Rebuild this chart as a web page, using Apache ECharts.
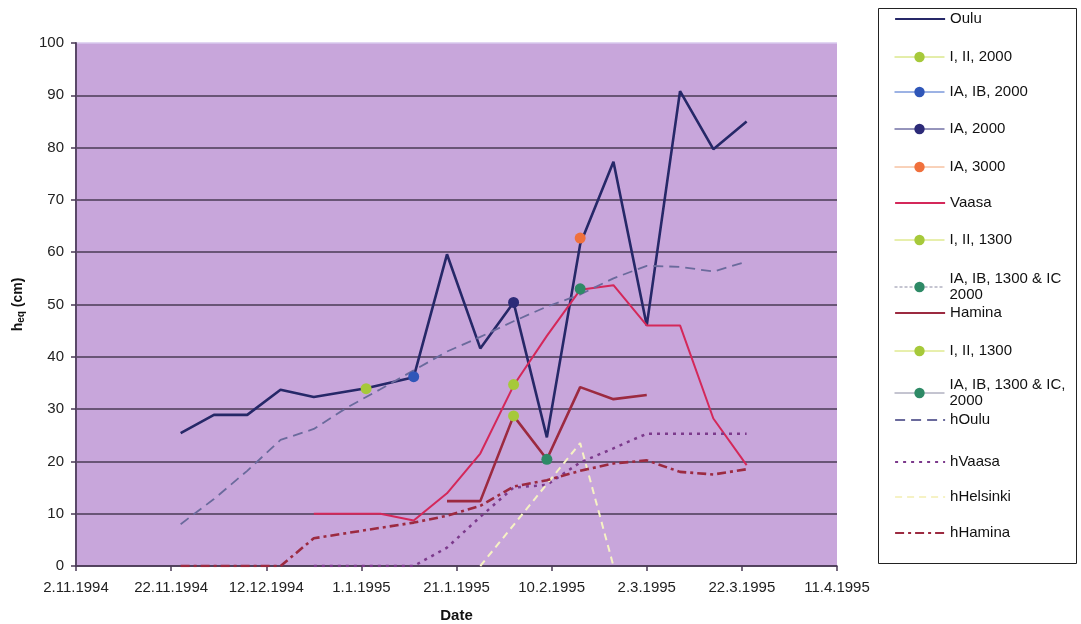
<!DOCTYPE html>
<html><head><meta charset="utf-8">
<script src="https://cdn.jsdelivr.net/npm/echarts@6/dist/echarts.min.js"></script>
<style>html,body{margin:0;padding:0;background:#fff}#c{width:1081px;height:624px}</style>
</head><body><div id="c"></div>
<script>
// ---- data ----
const xTickLabels = ['2.11.1994','22.11.1994','12.12.1994','1.1.1995','21.1.1995','10.2.1995','2.3.1995','22.3.1995','11.4.1995'];

const ouluDates = ['24.11.1994','1.12.1994','8.12.1994','15.12.1994','22.12.1994','2.1.1995','12.1.1995','19.1.1995','26.1.1995','2.2.1995','9.2.1995','16.2.1995','23.2.1995','2.3.1995','9.3.1995','16.3.1995','23.3.1995'];
const ouluValues = [25.4, 28.9, 28.9, 33.7, 32.3, 34.0, 36.1, 59.6, 41.6, 50.4, 24.6, 61.5, 77.3, 46.0, 90.8, 79.7, 85.0];

const vaasaDates = ['22.12.1994','29.12.1994','5.1.1995','12.1.1995','19.1.1995','26.1.1995','2.2.1995','9.2.1995','16.2.1995','23.2.1995','2.3.1995','9.3.1995','16.3.1995','23.3.1995'];
const vaasaValues = [10, 10, 10, 8.7, 13.9, 21.5, 34.5, 44.0, 52.8, 53.7, 46.0, 46.0, 28.2, 19.3];

const haminaDates = ['19.1.1995','26.1.1995','2.2.1995','9.2.1995','16.2.1995','23.2.1995','2.3.1995'];
const haminaValues = [12.4, 12.4, 28.7, 20.4, 34.2, 31.9, 32.7];

const hOuluDates = ['24.11.1994','1.12.1994','8.12.1994','15.12.1994','22.12.1994','29.12.1994','5.1.1995','12.1.1995','19.1.1995','26.1.1995','2.2.1995','9.2.1995','16.2.1995','23.2.1995','2.3.1995','9.3.1995','16.3.1995','23.3.1995'];
const hOuluValues = [8.0, 12.8, 18.2, 24.1, 26.2, 30.3, 33.8, 37.4, 41.0, 43.8, 46.8, 49.6, 51.9, 55.0, 57.4, 57.2, 56.3, 58.2];

const hVaasaDates = ['22.12.1994','29.12.1994','5.1.1995','12.1.1995','19.1.1995','26.1.1995','2.2.1995','9.2.1995','16.2.1995','23.2.1995','2.3.1995','9.3.1995','16.3.1995','23.3.1995'];
const hVaasaValues = [0, 0, 0, 0, 3.5, 9.4, 15.0, 15.5, 19.8, 22.5, 25.3, 25.3, 25.3, 25.3];

const hHelsinkiDates = ['26.1.1995','16.2.1995','23.2.1995'];
const hHelsinkiValues = [0, 23.5, 0];

const hHaminaDates = ['24.11.1994','1.12.1994','8.12.1994','15.12.1994','22.12.1994','29.12.1994','5.1.1995','12.1.1995','19.1.1995','26.1.1995','2.2.1995','9.2.1995','16.2.1995','23.2.1995','2.3.1995','9.3.1995','16.3.1995','23.3.1995'];
const hHaminaValues = [0, 0, 0, 0, 5.3, 6.3, 7.3, 8.3, 9.6, 11.5, 15.2, 16.4, 18.2, 19.6, 20.2, 18.0, 17.5, 18.5];

// single-point class markers
const cls_I_II_2000 = { dates: ['2.1.1995'], values: [33.9] };
const cls_IA_IB_2000 = { dates: ['12.1.1995'], values: [36.2] };
const cls_IA_2000 = { dates: ['2.2.1995'], values: [50.4] };
const cls_IA_3000 = { dates: ['16.2.1995'], values: [62.7] };
const cls_V_I_II_1300 = { dates: ['2.2.1995'], values: [34.7] };
const cls_V_IA_IB_1300 = { dates: ['16.2.1995'], values: [53.0] };
const cls_H_I_II_1300 = { dates: ['2.2.1995'], values: [28.7] };
const cls_H_IA_IB_1300 = { dates: ['9.2.1995'], values: [20.4] };

// ---- helpers ----
const BASE = Date.UTC(1994, 10, 2);
function dayOf(s) { const p = s.split('.').map(Number); return (Date.UTC(p[2], p[1] - 1, p[0]) - BASE) / 86400000; }
function pts(dates, vals) { return dates.map((d, i) => [dayOf(d), vals[i]]); }

const FONT = 'Liberation Sans, Arial, sans-serif';

function lineSeries(name, data, color, width, type, z) {
  return { name, type: 'line', data, symbol: 'none', z: z || 2,
    lineStyle: { color, width, type: type || 'solid' }, itemStyle: { color }, emphasis: { disabled: true }, silent: true };
}
function markSeries(name, obj, mColor, lColor, lType) {
  return { name, type: 'line', data: pts(obj.dates, obj.values), symbol: 'circle', symbolSize: 11, showSymbol: true, z: 5,
    itemStyle: { color: mColor }, lineStyle: { color: lColor, width: 1, type: lType || 'solid' }, emphasis: { disabled: true }, silent: true };
}

const series = [
  lineSeries('Oulu', pts(ouluDates, ouluValues), '#262868', 2.6),
  markSeries('I, II, 2000', cls_I_II_2000, '#a6c93a', '#c9dc55'),
  markSeries('IA, IB, 2000', cls_IA_IB_2000, '#2f56b8', '#3b66c9'),
  markSeries('IA, 2000', cls_IA_2000, '#2c2a78', '#2c2a78'),
  markSeries('IA, 3000', cls_IA_3000, '#f0703c', '#f2a474'),
  lineSeries('Vaasa', pts(vaasaDates, vaasaValues), '#d4285a', 2),
  markSeries('I, II, 1300', cls_V_I_II_1300, '#a6c93a', '#d0df5a'),
  markSeries('IA, IB, 1300 & IC 2000', cls_V_IA_IB_1300, '#2e8a66', '#8a8aa2', [3, 2]),
  lineSeries('Hamina', pts(haminaDates, haminaValues), '#9c2a40', 2.6),
  markSeries('I, II, 1300', cls_H_I_II_1300, '#a6c93a', '#d0df5a'),
  markSeries('IA, IB, 1300 & IC, 2000', cls_H_IA_IB_1300, '#2e8a66', '#8a8aa2'),
  lineSeries('hOulu', pts(hOuluDates, hOuluValues), '#6a6a9c', 1.8, [10, 6]),
  lineSeries('hVaasa', pts(hVaasaDates, hVaasaValues), '#7c3a8c', 2.5, [3, 5]),
  lineSeries('hHelsinki', pts(hHelsinkiDates, hHelsinkiValues), '#f6f2c4', 2, [7, 5]),
  lineSeries('hHamina', pts(hHaminaDates, hHaminaValues), '#9c2a40', 2.6, [9, 4, 3, 4])
];

// legend entries: name, icon centre y, lines of text, plain line?, formatted text
const legendItems = [
  ['Oulu', 19, 1, true, null],
  ['I, II, 2000', 57, 1, false, null],
  ['IA, IB, 2000', 92, 1, false, null],
  ['IA, 2000', 129, 1, false, null],
  ['IA, 3000', 167, 1, false, null],
  ['Vaasa', 203, 1, true, null],
  ['I, II, 1300', 240, 1, false, null],
  ['IA, IB, 1300 & IC 2000', 287, 2, false, 'IA, IB, 1300 & IC\n2000'],
  ['Hamina', 313, 1, true, null],
  ['I, II, 1300', 351, 1, false, null],
  ['IA, IB, 1300 & IC, 2000', 393, 2, false, 'IA, IB, 1300 & IC,\n2000'],
  ['hOulu', 420, 1, true, null],
  ['hVaasa', 462, 1, true, null],
  ['hHelsinki', 497, 1, true, null],
  ['hHamina', 533, 1, true, null]
];
const legends = legendItems.map(([name, cy, nl, plain, fmt]) => {
  const l = {
    data: [name], orient: 'vertical', left: 894, top: cy - 8 * nl, padding: 0,
    itemWidth: 50, itemHeight: 13, selectedMode: false,
    textStyle: { fontFamily: FONT, fontSize: 15, color: '#111', lineHeight: 16 },
    lineStyle: { width: plain ? 2.2 : 1 }
  };
  if (plain) l.itemStyle = { opacity: 0 };
  if (fmt) l.formatter = fmt;
  return l;
});

const gridColors = [];
for (let i = 0; i < 10; i++) gridColors.push('#4a3a55');
gridColors.push('#d8c8ee');

const option = {
  backgroundColor: '#ffffff',
  animation: false,
  grid: { left: 76, right: 244, top: 43, bottom: 58, show: true, backgroundColor: '#c8a6db', borderWidth: 0, containLabel: false, outerBoundsMode: 'none' },
  graphic: [{ type: 'rect', z: 0, shape: { x: 878.5, y: 8.5, width: 198, height: 555 }, style: { fill: '#ffffff', stroke: '#222', lineWidth: 1 } }],
  legend: legends,
  xAxis: {
    type: 'value', min: 0, max: 160, interval: 20,
    name: 'Date', nameLocation: 'middle', nameGap: 42,
    nameTextStyle: { fontFamily: FONT, fontSize: 15, fontWeight: 'bold', color: '#111' },
    axisLine: { show: true, lineStyle: { color: '#4a3a55', width: 1.5 } },
    axisTick: { show: true, inside: false, length: 5, lineStyle: { color: '#4a3a55', width: 1.5 } },
    axisLabel: { margin: 14, fontFamily: FONT, fontSize: 15, color: '#222', hideOverlap: false,
      formatter: v => xTickLabels[Math.round(v / 20)] },
    splitLine: { show: false }
  },
  yAxis: {
    type: 'value', min: 0, max: 100, interval: 10,
    name: '{h|h}{s|eq}{h| (cm)}', nameLocation: 'middle', nameGap: 50, nameRotate: 90,
    nameTextStyle: { rich: {
      h: { fontFamily: FONT, fontSize: 14, fontWeight: 'bold', color: '#111' },
      s: { fontFamily: FONT, fontSize: 10, fontWeight: 'bold', color: '#111', padding: [6, 0, 0, 0] } } },
    axisLine: { show: true, lineStyle: { color: '#5a4868', width: 2 } },
    axisTick: { show: true, inside: false, length: 5, lineStyle: { color: '#4a3a55', width: 1.5 } },
    axisLabel: { margin: 12, fontFamily: FONT, fontSize: 15, color: '#222' },
    splitLine: { show: true, lineStyle: { color: gridColors, width: 1.6 } }
  },
  series
};
const chart = echarts.init(document.getElementById('c'), null, { renderer: 'canvas' });
chart.setOption(option);
</script></body></html>
